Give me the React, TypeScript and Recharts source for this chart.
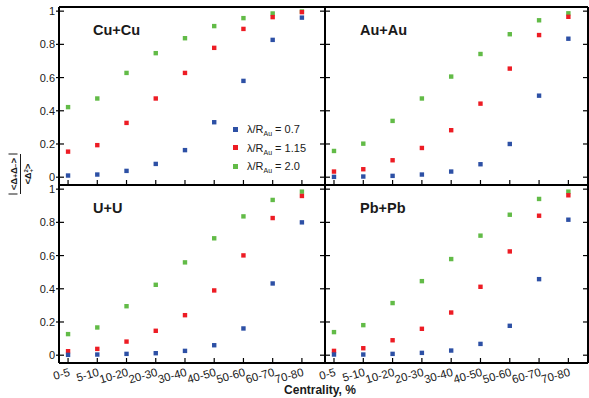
import React from "react";
import { ScatterChart, Scatter, XAxis, YAxis, Legend } from "recharts";

const centralityBins = ["0-5", "5-10", "10-20", "20-30", "30-40", "40-50", "50-60", "60-70", "70-80"];
const yTickValues = [0, 0.2, 0.4, 0.6, 0.8, 1];
const lambdaValues = ["0.7", "1.15", "2.0"];
const seriesColors = ["#2d50a5", "#ed1c24", "#62bb47"];

// values, one per centrality bin
const cuCu07 = [0.01, 0.016, 0.038, 0.08, 0.163, 0.331, 0.58, 0.827, 0.961];
const cuCu115 = [0.154, 0.193, 0.327, 0.474, 0.628, 0.779, 0.893, 0.964, 0.994];
const cuCu20 = [0.422, 0.474, 0.628, 0.747, 0.837, 0.91, 0.958, 0.986, 0.998];

const auAu07 = [0.002, 0.004, 0.008, 0.016, 0.034, 0.078, 0.2, 0.491, 0.834];
const auAu115 = [0.034, 0.048, 0.102, 0.176, 0.283, 0.443, 0.654, 0.856, 0.966];
const auAu20 = [0.158, 0.202, 0.339, 0.474, 0.606, 0.742, 0.861, 0.945, 0.987];

const uU07 = [0.002, 0.004, 0.008, 0.012, 0.026, 0.06, 0.161, 0.432, 0.8];
const uU115 = [0.024, 0.038, 0.082, 0.147, 0.241, 0.39, 0.601, 0.826, 0.959];
const uU20 = [0.127, 0.167, 0.295, 0.424, 0.559, 0.704, 0.836, 0.935, 0.985];

const pbPb07 = [0.004, 0.004, 0.008, 0.014, 0.028, 0.068, 0.177, 0.458, 0.816];
const pbPb115 = [0.026, 0.042, 0.09, 0.159, 0.257, 0.412, 0.625, 0.84, 0.963];
const pbPb20 = [0.139, 0.181, 0.314, 0.446, 0.579, 0.72, 0.846, 0.941, 0.985];

const W = 589;
const H = 398;
const FONT = '"Liberation Sans", Arial, Helvetica, sans-serif';
const INK = "#1a1a1a";
const Y_DOMAIN: [number, number] = [-0.047, 1.025];
const MARK = 4.4;
const binIndex = centralityBins.map((_, i) => i);

const toPoints = (vals: number[]) => vals.map((v, i) => ({ x: i, y: v }));

const panels = [
  { name: "Cu+Cu", series: [cuCu07, cuCu115, cuCu20], x0: 59, x1: 325, y0: 7, y1: 185, xDomain: [-0.31, 8.79], left: true, bottom: false, legend: true, lx: 93, ly: 35 },
  { name: "Au+Au", series: [auAu07, auAu115, auAu20], x0: 325, x1: 588, y0: 7, y1: 185, xDomain: [-0.307, 8.67], left: false, bottom: false, legend: false, lx: 360, ly: 35 },
  { name: "U+U", series: [uU07, uU115, uU20], x0: 59, x1: 325, y0: 185, y1: 363, xDomain: [-0.31, 8.79], left: true, bottom: true, legend: false, lx: 93, ly: 213 },
  { name: "Pb+Pb", series: [pbPb07, pbPb115, pbPb20], x0: 325, x1: 588, y0: 185, y1: 363, xDomain: [-0.307, 8.67], left: false, bottom: true, legend: false, lx: 360, ly: 213 },
];

const tickStroke = { stroke: "#000", strokeWidth: 1.2 };
const frame = { stroke: "#000", strokeWidth: 2 };

const squareMark = (props: any) => {
  const { cx, cy, fill } = props;
  return <rect x={cx - MARK / 2} y={cy - MARK / 2} width={MARK} height={MARK} fill={fill} />;
};

const bottomTick = (showLabel: boolean) => (props: any) => {
  const { x, y, payload } = props;
  const ax = x + 2.5;
  const ay = y + 12.5;
  return (
    <g>
      <line x1={x} y1={y} x2={x} y2={y - 5} {...tickStroke} />
      {showLabel && (
        <text x={ax} y={ay} textAnchor="end" fontSize={11.5} fill={INK} fontFamily={FONT} transform={`rotate(-16, ${ax}, ${ay})`}>
          {centralityBins[payload.value]}
        </text>
      )}
    </g>
  );
};

const topTick = (props: any) => {
  const { x, y } = props;
  return <line x1={x} y1={y} x2={x} y2={y + 5} {...tickStroke} />;
};

const leftTick = (showLabel: boolean) => (props: any) => {
  const { x, y, payload } = props;
  return (
    <g>
      <line x1={showLabel ? x - 3 : x} y1={y} x2={x + 5} y2={y} {...tickStroke} />
      {showLabel && (
        <text x={x - 4} y={y} dy="0.36em" textAnchor="end" fontSize={11} fill={INK} fontFamily={FONT}>
          {String(payload.value)}
        </text>
      )}
    </g>
  );
};

const rightTick = (props: any) => {
  const { x, y } = props;
  return <line x1={x} y1={y} x2={x - 5} y2={y} {...tickStroke} />;
};

const renderLegend = () => (
  <div style={{ fontFamily: FONT, fontSize: 11, color: INK }}>
    {lambdaValues.map((lam, i) => (
      <div key={lam} style={{ height: 18.5, display: "flex", alignItems: "center", whiteSpace: "nowrap" }}>
        <span style={{ width: 5, height: 5, background: seriesColors[i], marginRight: 9, display: "inline-block" }} />
        <span>
          λ/R<span style={{ fontSize: 7, position: "relative", top: 3 }}>Au</span> = {lam}
        </span>
      </div>
    ))}
  </div>
);

function Panel({ p }: { p: (typeof panels)[number] }) {
  const drawOrder = [2, 1, 0];
  return (
    <div style={{ position: "absolute", left: 0, top: 0 }}>
      <ScatterChart
        width={W}
        height={H}
        margin={{ top: p.y0 - 1, bottom: H - p.y1 - 1, left: p.x0 - 1, right: W - p.x1 - 1 }}
      >
        <XAxis
          xAxisId="b"
          type="number"
          dataKey="x"
          domain={p.xDomain}
          allowDataOverflow
          ticks={binIndex}
          interval={0}
          height={1}
          tickSize={0}
          tickMargin={0}
          tickLine={false}
          axisLine={frame}
          tick={bottomTick(p.bottom)}
        />
        <XAxis
          xAxisId="t"
          orientation="top"
          type="number"
          domain={p.xDomain}
          allowDataOverflow
          ticks={binIndex}
          interval={0}
          height={1}
          tickSize={0}
          tickMargin={0}
          tickLine={false}
          axisLine={frame}
          tick={topTick}
        />
        <YAxis
          yAxisId="l"
          type="number"
          dataKey="y"
          domain={Y_DOMAIN}
          allowDataOverflow
          ticks={yTickValues}
          interval={0}
          width={1}
          tickSize={0}
          tickMargin={0}
          tickLine={false}
          axisLine={frame}
          tick={leftTick(p.left)}
        />
        <YAxis
          yAxisId="r"
          orientation="right"
          type="number"
          domain={Y_DOMAIN}
          allowDataOverflow
          ticks={yTickValues}
          interval={0}
          width={1}
          tickSize={0}
          tickMargin={0}
          tickLine={false}
          axisLine={frame}
          tick={rightTick}
        />
        {drawOrder.map((i) => (
          <Scatter
            key={i}
            xAxisId="b"
            yAxisId="l"
            name={lambdaValues[i]}
            data={toPoints(p.series[i])}
            fill={seriesColors[i]}
            shape={squareMark}
            isAnimationActive={false}
          />
        ))}
        {p.legend && (
          <Legend
            layout="horizontal"
            verticalAlign="middle"
            align="center"
            content={renderLegend}
            wrapperStyle={{ left: 233, top: 120, width: "auto", height: "auto" }}
          />
        )}
      </ScatterChart>
    </div>
  );
}

export default function App() {
  return (
    <div style={{ position: "absolute", left: 0, top: 0, width: W, height: H, background: "#fff", overflow: "hidden" }}>
      {panels.map((p) => (
        <Panel key={p.name} p={p} />
      ))}
      <svg width={W} height={H} style={{ position: "absolute", left: 0, top: 0, pointerEvents: "none" }}>
        {panels.map((p) => (
          <text key={p.name} x={p.lx} y={p.ly} fontSize={14.5} fontWeight="bold" fill={INK} fontFamily={FONT}>
            {p.name}
          </text>
        ))}
        <g transform="translate(20.5, 174) rotate(-90)" fontFamily={FONT} fontWeight="bold" fill={INK}>
          <line x1={-20} y1={-12} x2={-20} y2={-3} stroke={INK} strokeWidth={1} />
          <line x1={20} y1={-12} x2={20} y2={-3} stroke={INK} strokeWidth={1} />
          <text x={0} y={-4} textAnchor="middle" fontSize={9.5}>
            {"<Δ"}
            <tspan fontSize={6.5} dy={1.5}>+</tspan>
            <tspan dy={-1.5}>Δ</tspan>
            <tspan fontSize={6.5} dy={1.5}>−</tspan>
            <tspan dy={-1.5}>{">"}</tspan>
          </text>
          <line x1={-20} y1={0} x2={20} y2={0} stroke={INK} strokeWidth={1} />
          <text x={0} y={10.5} textAnchor="middle" fontSize={9}>
            {"<Δ"}
            <tspan fontSize={6} dy={-3}>2</tspan>
            <tspan fontSize={6} dx={-3.5} dy={5}>+</tspan>
            <tspan dy={-2}>{">"}</tspan>
          </text>
        </g>
        <text x={320} y={394} textAnchor="middle" fontSize={12} fontWeight="bold" fill={INK} fontFamily={FONT}>
          Centrality, %
        </text>
      </svg>
    </div>
  );
}
